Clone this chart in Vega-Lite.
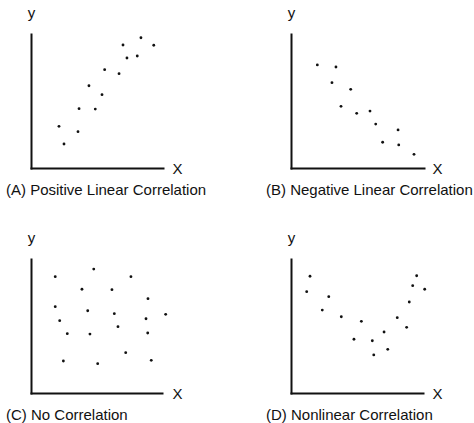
{
  "$schema": "https://vega.github.io/schema/vega-lite/v6.json",
  "padding": {"left": 6, "top": 5, "right": 0, "bottom": 0},
  "background": "white",
  "columns": 2,
  "spacing": {"row": 91, "column": 128},
  "bounds": "flush",
  "config": {
    "view": {"stroke": null},
    "font": "Liberation Sans",
    "axis": {
      "domain": true, "domainColor": "#111111", "domainWidth": 2, "domainCap": "square",
      "ticks": false, "labels": false, "grid": false,
      "titleFont": "Liberation Sans", "titleFontSize": 15, "titleFontWeight": "normal", "titleColor": "#111111"
    },
    "axisX": {"titleAngle": 0, "titleAlign": "center", "titleBaseline": "middle", "titleX": 146, "titleY": 0},
    "axisY": {"titleAngle": 0, "titleAlign": "center", "titleBaseline": "alphabetic", "titleX": 0, "titleY": -16.5},
    "title": {"orient": "bottom", "anchor": "start", "frame": "group", "dx": -25, "offset": 7, "baseline": "top", "fontSize": 15, "fontWeight": "normal", "font": "Liberation Sans", "color": "#111111"},
    "point": {"filled": true, "size": 8, "color": "#111111", "opacity": 1}
  },
  "concat": [
    {
      "width": 132, "height": 134,
      "title": {"text": "(A) Positive Linear Correlation"},
      "data": {"values": [
        {"x": 21.2, "y": 31.1}, {"x": 25.0, "y": 17.9}, {"x": 35.6, "y": 27.1}, {"x": 36.4, "y": 44.3},
        {"x": 43.9, "y": 61.4}, {"x": 48.7, "y": 44.0}, {"x": 53.8, "y": 54.7}, {"x": 55.8, "y": 73.4},
        {"x": 66.7, "y": 70.4}, {"x": 69.7, "y": 91.8}, {"x": 72.7, "y": 82.1}, {"x": 80.5, "y": 83.6},
        {"x": 83.3, "y": 97.2}, {"x": 93.0, "y": 91.6}
      ]},
      "mark": {"type": "point"},
      "encoding": {
        "x": {"field": "x", "type": "quantitative", "scale": {"domain": [0, 100], "nice": false, "zero": false}, "axis": {"title": "X"}},
        "y": {"field": "y", "type": "quantitative", "scale": {"domain": [0, 100], "nice": false, "zero": false}, "axis": {"title": "y"}}
      }
    },
    {
      "width": 133, "height": 134,
      "title": {"text": "(B) Negative Linear Correlation"},
      "data": {"values": [
        {"x": 19.8, "y": 76.9}, {"x": 33.8, "y": 75.4}, {"x": 30.8, "y": 63.7}, {"x": 44.9, "y": 58.7},
        {"x": 37.6, "y": 46.0}, {"x": 49.4, "y": 40.8}, {"x": 59.4, "y": 42.5}, {"x": 63.7, "y": 32.8},
        {"x": 80.5, "y": 28.4}, {"x": 68.9, "y": 19.2}, {"x": 81.0, "y": 17.2}, {"x": 92.5, "y": 10.2}
      ]},
      "mark": {"type": "point"},
      "encoding": {
        "x": {"field": "x", "type": "quantitative", "scale": {"domain": [0, 100], "nice": false, "zero": false}, "axis": {"title": "X"}},
        "y": {"field": "y", "type": "quantitative", "scale": {"domain": [0, 100], "nice": false, "zero": false}, "axis": {"title": "y"}}
      }
    },
    {
      "width": 131, "height": 134,
      "title": {"text": "(C) No Correlation"},
      "data": {"values": [
        {"x": 18.5, "y": 86.8}, {"x": 47.9, "y": 92.5}, {"x": 76.3, "y": 86.8}, {"x": 38.9, "y": 77.4},
        {"x": 61.8, "y": 77.1}, {"x": 89.3, "y": 70.4}, {"x": 18.5, "y": 64.4}, {"x": 43.3, "y": 61.4},
        {"x": 63.6, "y": 59.2}, {"x": 102.8, "y": 58.7}, {"x": 21.9, "y": 54.0}, {"x": 87.8, "y": 55.4},
        {"x": 66.4, "y": 49.5}, {"x": 27.7, "y": 44.3}, {"x": 45.0, "y": 44.0}, {"x": 89.1, "y": 44.8},
        {"x": 72.3, "y": 30.1}, {"x": 24.7, "y": 23.9}, {"x": 50.9, "y": 21.9}, {"x": 91.8, "y": 24.4}
      ]},
      "mark": {"type": "point"},
      "encoding": {
        "x": {"field": "x", "type": "quantitative", "scale": {"domain": [0, 100], "nice": false, "zero": false}, "axis": {"title": "X"}},
        "y": {"field": "y", "type": "quantitative", "scale": {"domain": [0, 100], "nice": false, "zero": false}, "axis": {"title": "y"}}
      }
    },
    {
      "width": 132, "height": 134,
      "title": {"text": "(D) Nonlinear Correlation"},
      "data": {"values": [
        {"x": 14.4, "y": 87.1}, {"x": 11.9, "y": 75.6}, {"x": 28.6, "y": 71.9}, {"x": 23.7, "y": 61.9},
        {"x": 38.1, "y": 56.9}, {"x": 53.3, "y": 53.5}, {"x": 47.7, "y": 40.1}, {"x": 61.6, "y": 39.0},
        {"x": 70.5, "y": 45.5}, {"x": 62.7, "y": 28.4}, {"x": 73.3, "y": 32.6}, {"x": 80.5, "y": 56.2},
        {"x": 87.6, "y": 49.0}, {"x": 89.6, "y": 67.9}, {"x": 92.2, "y": 80.1}, {"x": 95.2, "y": 87.5},
        {"x": 101.3, "y": 77.4}
      ]},
      "mark": {"type": "point"},
      "encoding": {
        "x": {"field": "x", "type": "quantitative", "scale": {"domain": [0, 100], "nice": false, "zero": false}, "axis": {"title": "X"}},
        "y": {"field": "y", "type": "quantitative", "scale": {"domain": [0, 100], "nice": false, "zero": false}, "axis": {"title": "y"}}
      }
    }
  ]
}
